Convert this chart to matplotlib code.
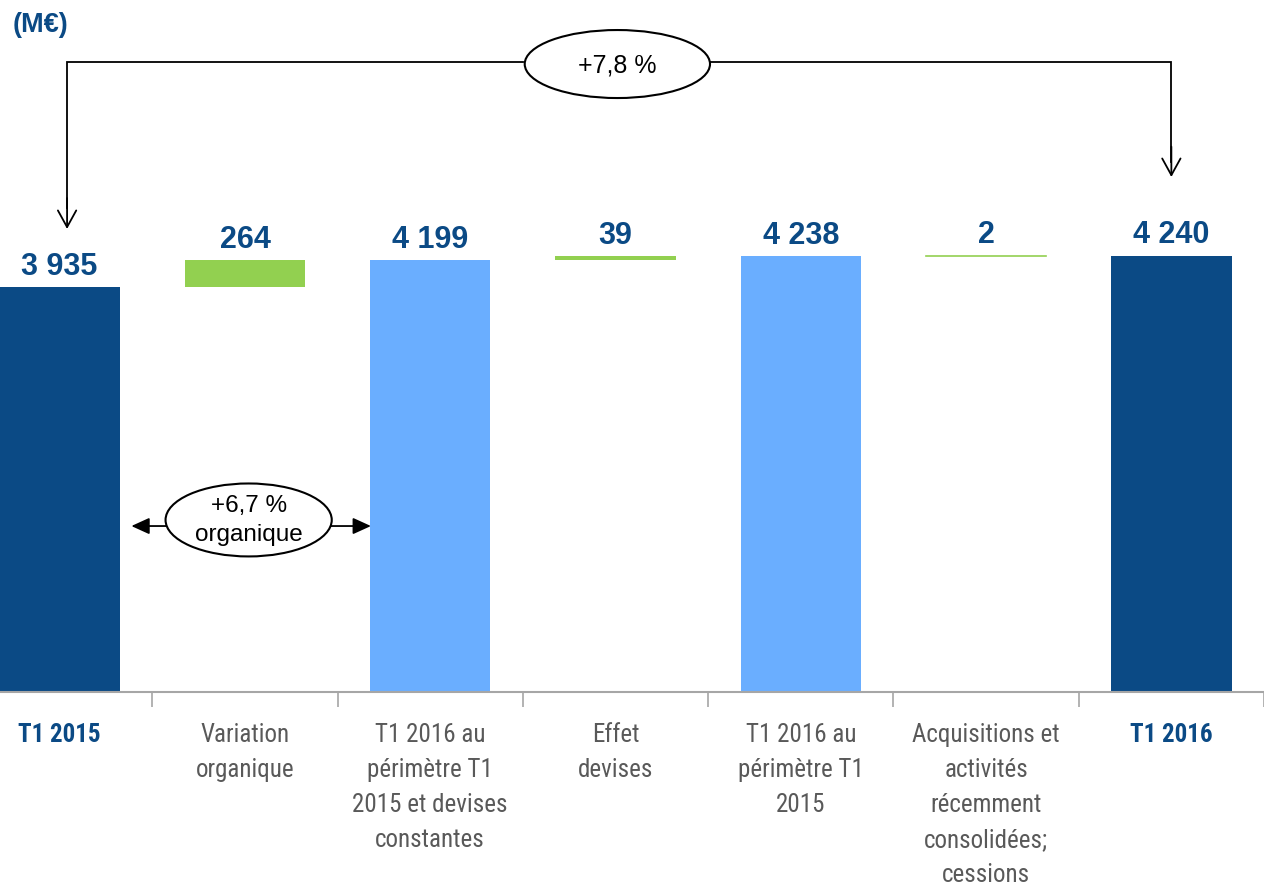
import matplotlib
matplotlib.use("Agg")
import matplotlib.pyplot as plt
from matplotlib.patches import Ellipse

categories = ["T1 2015", "Variation\norganique", "T1 2016 au\npérimètre T1\n2015 et devises\nconstantes",
              "Effet\ndevises", "T1 2016 au\npérimètre T1\n2015", "Acquisitions et\nactivités\nrécemment\nconsolidées;\ncessions",
              "T1 2016"]
values = [3935, 264, 4199, 39, 4238, 2, 4240]
kinds = ["total", "delta", "sub", "delta", "sub", "delta", "total"]
value_labels = ["3 935", "264", "4 199", "39", "4 238", "2", "4 240"]
growth_total = "+7,8 %"
growth_organic = "+6,7 %\norganique"

DARK = "#0B4A85"
LIGHT = "#6AAEFF"
GREEN = "#92D050"
GRAY = "#595959"
AXGRAY = "#A6A6A6"

narrow = ["Roboto Condensed", "Liberation Sans", "DejaVu Sans"]
plt.rcParams['font.family'] = ["Liberation Sans", "DejaVu Sans"]

fig = plt.figure(figsize=(12.64, 8.87), dpi=100)
ax = fig.add_axes([0, 1 - 693 / 887, 1, 693 / 887])

x = list(range(len(values)))
bottoms, heights, colors = [], [], []
running = 0
for v, k in zip(values, kinds):
    if k == "delta":
        bottoms.append(running)
        heights.append(v)
        colors.append(GREEN)
        running += v
    else:
        bottoms.append(0)
        heights.append(v)
        colors.append(DARK if k == "total" else LIGHT)
        running = v

W = 0.65
ax.bar(x, heights, bottom=bottoms, width=W, color=colors, edgecolor='none')
for xi, b, h, k in zip(x, bottoms, heights, kinds):
    if k == "delta" and h < 10:
        ax.plot([xi - W / 2, xi + W / 2], [b + h, b + h], color=GREEN, lw=1.2)

for xi, b, h, lab in zip(x, bottoms, heights, value_labels):
    ax.annotate(lab, (xi, b + h), xytext=(0, 4.5), textcoords='offset points',
                ha='center', va='bottom', fontsize=22, fontweight='bold', color=DARK)

ax.set_xlim(-0.322, 6.466)
ax.set_ylim(0, 6735)
ax.set_yticks([])
for s in ["top", "right", "left"]:
    ax.spines[s].set_visible(False)
ax.spines["bottom"].set_color(AXGRAY)
ax.spines["bottom"].set_linewidth(1.5)
ax.set_xticks(x)
ax.set_xticks([i + 0.5 for i in range(len(values))], minor=True)
ax.tick_params(axis='x', which='major', length=0, pad=21.5)
ax.tick_params(axis='x', which='minor', length=11, color=AXGRAY, width=1.2)
ax.set_xticklabels(categories)
for i, t in enumerate(ax.get_xticklabels()):
    t.set_family(narrow)
    t.set_fontsize(18)
    t.set_linespacing(1.58)
    t.set_ha('center')
    t.set_va('top')
    if kinds[i] == "total":
        t.set_color(DARK)
        t.set_fontweight('bold')
    else:
        t.set_color(GRAY)

# top bracket +7.8%
yb = 6122
ax.plot([0.04, 0.04, 2.5], [4700, yb, yb], color='black', lw=1.3, solid_joinstyle='miter')
ax.plot([3.5, 6.0, 6.0], [yb, yb, 5150], color='black', lw=1.3, solid_joinstyle='miter')
vhead = dict(arrowstyle='->,head_length=0.6,head_width=0.33', color='black', lw=1.3, mutation_scale=20,
             shrinkA=0, shrinkB=0)
ax.annotate("", xy=(0.04, 4500), xytext=(0.04, 4800), arrowprops=vhead)
ax.annotate("", xy=(6.0, 5005), xytext=(6.0, 5300), arrowprops=vhead)
ax.add_patch(Ellipse((3.01, 6103), 1.0, 661, facecolor='white', edgecolor='black', lw=1.5, zorder=5))
ax.text(3.01, 6103, growth_total, ha='center', va='center', fontsize=18, color='black', zorder=6)

# organic arrows
ya = 1613
fhead = dict(arrowstyle='-|>,head_length=0.55,head_width=0.25', color='black', lw=1.3, mutation_scale=20,
             shrinkA=0, shrinkB=0)
ax.annotate("", xy=(0.387, ya), xytext=(0.6, ya), arrowprops=fhead)
ax.annotate("", xy=(1.68, ya), xytext=(1.45, ya), arrowprops=fhead)
ax.add_patch(Ellipse((1.02, 1672), 0.897, 709, facecolor='white', edgecolor='black', lw=1.5, zorder=5))
ax.text(1.02, 1675, growth_organic, ha='center', va='center', fontsize=17.5, color='black',
        linespacing=1.45, zorder=6)

fig.text(13 / 1264, 1 - 25 / 887, "(M€)", ha='left', va='center', fontsize=19.5, fontweight='bold', color=DARK)

fig.savefig("out.png", dpi=100)
